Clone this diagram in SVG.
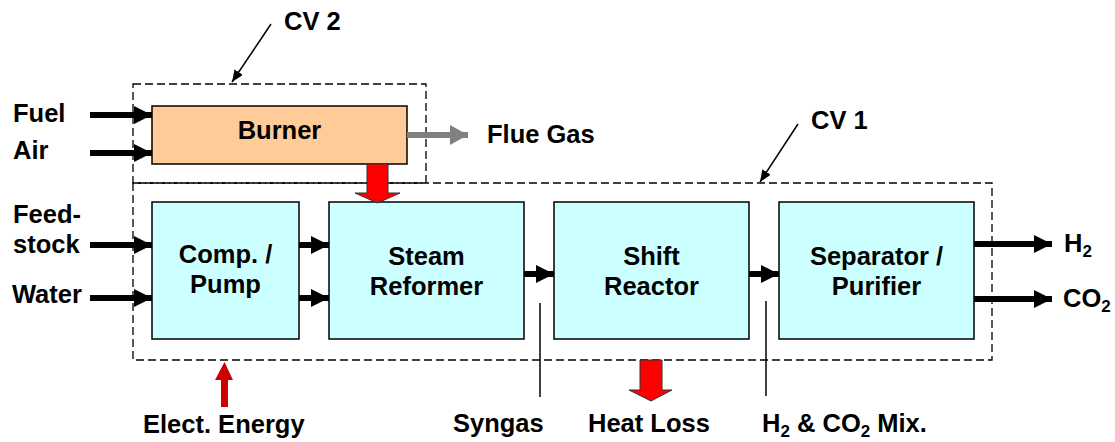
<svg xmlns="http://www.w3.org/2000/svg" width="1115" height="442" viewBox="0 0 1115 442">
<style>
text{font-family:"Liberation Sans",Arial,sans-serif;font-weight:bold;font-size:25.5px;fill:#000}
.c{text-anchor:middle}
.sub{font-size:17px}
.cv{fill:none;stroke:#000;stroke-width:1.3;stroke-dasharray:8,4}
.box{fill:#CCFFFF;stroke:#000;stroke-width:1.5}
.burn{fill:#FFCC99;stroke:#000;stroke-width:1.5}
.flow{stroke:#000;stroke-width:6;fill:none}
.gflow{stroke:#808080;stroke-width:6;fill:none}
.thin{stroke:#000;stroke-width:1.5;fill:none}
.red{fill:#FF0000;stroke:#333;stroke-width:1}
</style>
<defs>
<marker id="ah" markerUnits="userSpaceOnUse" markerWidth="18" markerHeight="18" refX="18" refY="9" orient="auto"><path d="M0,0 L18,9 L0,18 z" fill="#000"/></marker>
<marker id="gh" markerUnits="userSpaceOnUse" markerWidth="18" markerHeight="20" refX="18" refY="10" orient="auto"><path d="M0,0 L18,10 L0,20 z" fill="#808080"/></marker>
<marker id="sh" markerUnits="userSpaceOnUse" markerWidth="12" markerHeight="10" refX="12" refY="5" orient="auto"><path d="M0,0 L12,5 L0,10 z" fill="#000"/></marker>
</defs>

<g id="cv1"><rect class="cv" x="133" y="183" width="859" height="177"/></g>
<g id="cv2"><rect class="cv" x="133" y="84" width="293" height="99"/></g>

<g id="burner"><rect class="burn" x="152" y="106" width="255" height="58"/><text class="c" x="279.5" y="139">Burner</text></g>
<g id="comp"><rect class="box" x="152" y="202" width="147" height="137"/><text class="c" x="225.5" y="263">Comp. /</text><text class="c" x="225.5" y="293">Pump</text></g>
<g id="reformer"><rect class="box" x="329" y="202" width="195" height="137"/><text class="c" x="426.5" y="265">Steam</text><text class="c" x="426.5" y="295">Reformer</text></g>
<g id="shift"><rect class="box" x="554" y="202" width="195" height="137"/><text class="c" x="651.5" y="265">Shift</text><text class="c" x="651.5" y="295">Reactor</text></g>
<g id="separator"><rect class="box" x="779" y="202" width="195" height="137"/><text class="c" x="876.5" y="265">Separator /</text><text class="c" x="876.5" y="295">Purifier</text></g>

<g id="connectors">
<line class="flow" x1="90" y1="115" x2="152" y2="115" marker-end="url(#ah)"/>
<line class="flow" x1="90" y1="153" x2="152" y2="153" marker-end="url(#ah)"/>
<line class="flow" x1="90" y1="245" x2="152" y2="245" marker-end="url(#ah)"/>
<line class="flow" x1="90" y1="298" x2="152" y2="298" marker-end="url(#ah)"/>
<line class="flow" x1="299" y1="245" x2="329" y2="245" marker-end="url(#ah)"/>
<line class="flow" x1="299" y1="298" x2="329" y2="298" marker-end="url(#ah)"/>
<line class="flow" x1="524" y1="274" x2="554" y2="274" marker-end="url(#ah)"/>
<line class="flow" x1="749" y1="274" x2="779" y2="274" marker-end="url(#ah)"/>
<line class="flow" x1="974" y1="244" x2="1052" y2="244" marker-end="url(#ah)"/>
<line class="flow" x1="974" y1="299" x2="1052" y2="299" marker-end="url(#ah)"/>
<line class="gflow" x1="407" y1="135" x2="468" y2="135" marker-end="url(#gh)"/>
<polygon class="red" points="367,164 388,164 388,193 400,193 377.5,203 355,193 367,193"/>
<polygon class="red" points="640,360 662,360 662,390 672,390 651,401 629,390 640,390"/>
<polygon points="221,407 228,407 228,380 233,380 224.5,362 215,380 221,380" fill="#CC0000"/>
<line class="thin" x1="540" y1="303" x2="540" y2="397"/>
<line class="thin" x1="766" y1="301" x2="766" y2="396"/>
<line class="thin" x1="271" y1="24" x2="232" y2="82" marker-end="url(#sh)"/>
<line class="thin" x1="798" y1="124" x2="760" y2="182" marker-end="url(#sh)"/>
</g>

<g id="labels">
<text x="284" y="30">CV 2</text>
<text x="811" y="129">CV 1</text>
<text x="13" y="122">Fuel</text>
<text x="13" y="159">Air</text>
<text x="13" y="223">Feed-</text>
<text x="13" y="253">stock</text>
<text x="12" y="303">Water</text>
<text x="487" y="143">Flue Gas</text>
<text x="1064" y="252">H<tspan class="sub" dy="5">2</tspan></text>
<text x="1063" y="307">CO<tspan class="sub" dy="5">2</tspan></text>
<text x="143" y="433">Elect. Energy</text>
<text x="453" y="432">Syngas</text>
<text x="588" y="432">Heat Loss</text>
<text x="762" y="432">H<tspan class="sub" dy="5">2</tspan><tspan dy="-5"> &amp; CO</tspan><tspan class="sub" dy="5">2</tspan><tspan dy="-5"> Mix.</tspan></text>
</g>
</svg>
